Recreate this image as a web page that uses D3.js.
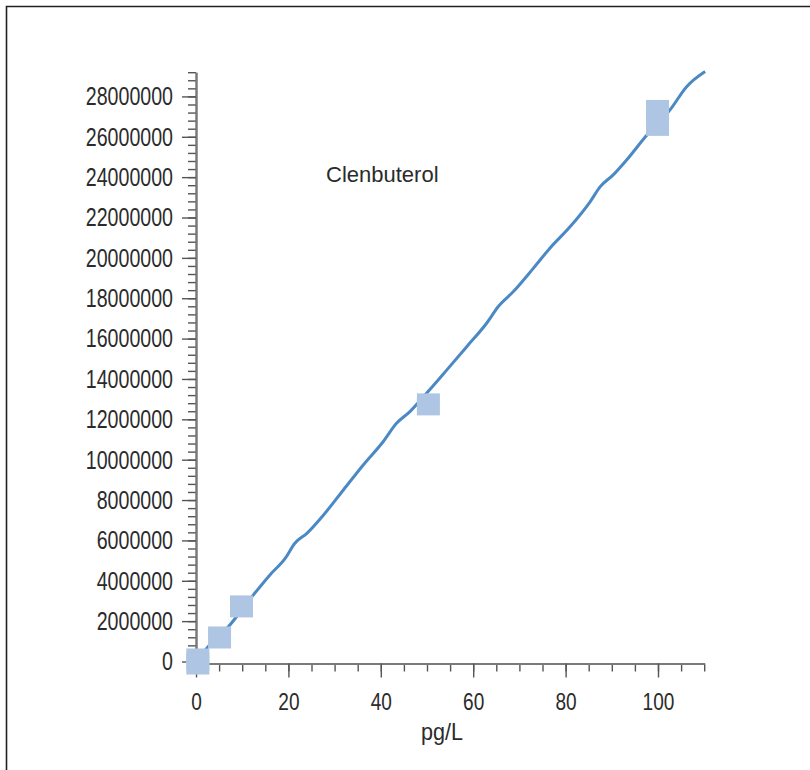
<!DOCTYPE html>
<html lang="en">

<head>
    <meta charset="UTF-8">
    <title>Clenbuterol calibration</title>
    <style>
        body,
        html {
            margin: 0;
            padding: 0;
            background: #fff;
        }

        svg text {
            font-family: "Liberation Sans", Arial, sans-serif;
            fill: #2b2b2b;
        }
    </style>
</head>

<body>
    <svg id="svg" width="810" height="770"></svg>

    <script src="https://d3js.org/d3.v7.min.js"></script>
    <script>
        // fitted curve (pg/L, response)
        const curveX = [0, 2.3, 7.0, 12.1, 16.0, 19.3, 21.4, 24.0, 27.6, 31.9, 36.2, 40.5, 43.4, 46.3, 49.9,
            54.3, 58.6, 62.9, 65.4, 68.7, 73.0, 76.6, 81.0, 85.3, 87.5, 90.3, 93.2, 97.6, 102.6, 106.2, 110.2]
        const curveY = [0, 650000, 1720000, 3210000, 4290000, 5110000, 5860000, 6350000, 7260000, 8500000,
            9740000, 10890000, 11800000, 12380000, 13290000, 14450000, 15600000, 16760000, 17580000,
            18330000, 19480000, 20480000, 21550000, 22780000, 23530000, 24110000, 24850000, 26090000,
            27330000, 28480000, 29230000]

        // measured standards
        const pointX = [0.4, 0.4, 5.1, 9.85, 50.3, 99.9, 99.9]
        const pointY = [100000, -100000, 1190000, 2730000, 12740000, 27280000, 26590000]

        const xMajor = [0, 20, 40, 60, 80, 100]
        const xMinor = d3.range(0, 111, 5)
        const yMajor = d3.range(0, 28000001, 2000000)
        const yMinor = d3.range(0, 29200001, 400000)

        const svg = d3.select('#svg')

        // frame
        svg.append('path')
            .attr('d', 'M6.5,770V6.5H810')
            .attr('fill', 'none')
            .attr('stroke', '#222')
            .attr('stroke-width', 1.6)

        const xscale = d3.scaleLinear()
            .domain([0, 110])
            .range([196, 704.2])

        const yscale = d3.scaleLinear()
            .domain([0, 29200000])
            .range([661.5, 72.2])

        const xAxisY = yscale(0) + 2

        // minor ticks first
        svg.append('g')
            .attr('transform', `translate(0, ${xAxisY})`)
            .call(d3.axisBottom(xscale).tickValues(xMinor).tickSize(8).tickSizeOuter(0).tickFormat(''))
        svg.append('g')
            .attr('transform', `translate(${xscale(0)}, 0)`)
            .call(d3.axisLeft(yscale).tickValues(yMinor).tickSize(8).tickSizeOuter(0).tickFormat(''))

        // major ticks + labels
        const xAxis = svg.append('g')
            .attr('transform', `translate(0, ${xAxisY})`)
            .call(d3.axisBottom(xscale).tickValues(xMajor).tickSize(14).tickSizeOuter(0).tickPadding(15))
        const yAxis = svg.append('g')
            .attr('transform', `translate(${xscale(0)}, 0)`)
            .call(d3.axisLeft(yscale).tickValues(yMajor).tickSize(14).tickSizeOuter(0).tickPadding(9)
                .tickFormat(d3.format('d')))

        svg.selectAll('.domain').attr('stroke', '#7a7a7a').attr('stroke-width', 2)
        svg.selectAll('.tick line').attr('stroke', '#555').attr('stroke-width', 1.4)

        // condensed look: squeeze the digits
        yAxis.selectAll('.tick text')
            .style('font-size', '26px')
            .attr('textLength', function () { return this.textContent.length * 10.9 })
            .attr('lengthAdjust', 'spacingAndGlyphs')
        xAxis.selectAll('.tick text')
            .style('font-size', '24px')
            .attr('textLength', function () { return this.textContent.length * 10.6 })
            .attr('lengthAdjust', 'spacingAndGlyphs')

        // fitted line
        const line = d3.line()
            .x((d, i) => xscale(curveX[i]))
            .y((d, i) => yscale(curveY[i]))
            .curve(d3.curveMonotoneX)

        svg.append('path')
            .datum(curveX)
            .attr('d', line)
            .attr('fill', 'none')
            .attr('stroke', '#4a89c4')
            .attr('stroke-width', 3)

        // standards
        const sw = 23, sh = 22
        svg.append('g')
            .selectAll('rect')
            .data(pointX)
            .enter()
            .append('rect')
            .attr('x', (d, i) => xscale(pointX[i]) - sw / 2)
            .attr('y', (d, i) => yscale(pointY[i]) - sh / 2)
            .attr('width', sw)
            .attr('height', sh)
            .attr('fill', '#aec5e3')

        // labels
        svg.append('text')
            .attr('x', 326)
            .attr('y', 182)
            .style('font-size', '22px')
            .text('Clenbuterol')

        svg.append('text')
            .attr('x', 421)
            .attr('y', 740)
            .style('font-size', '24px')
            .attr('textLength', 42)
            .attr('lengthAdjust', 'spacingAndGlyphs')
            .text('pg/L')
    </script>
</body>

</html>
